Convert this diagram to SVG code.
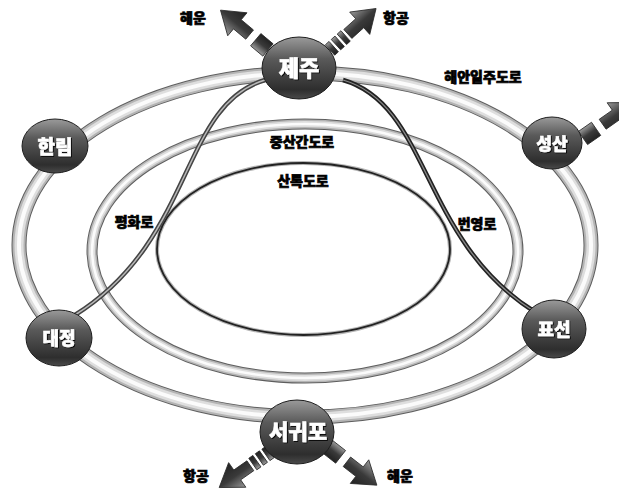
<svg xmlns="http://www.w3.org/2000/svg" width="619" height="490" viewBox="0 0 619 490">
<defs>
<style>
.lbl{font-family:"Noto Sans CJK KR","Noto Sans",sans-serif;font-weight:900;font-size:14px;fill:#000;stroke:#000;stroke-width:0.7;text-anchor:middle;dominant-baseline:central}
.nt{font-family:"Noto Sans CJK KR","Noto Sans",sans-serif;font-weight:900;fill:#fff;stroke:#fff;stroke-width:0.5;text-anchor:middle;dominant-baseline:central;filter:url(#ts)}
.ball{fill:url(#ballg);stroke:#1e1e1e;stroke-width:1}
.r1{fill:none;stroke:#5e5e5e}
.r2{fill:none;stroke:#b4b4b4}
.r3{fill:none;stroke:#dedede}
.r4{fill:none;stroke:#fbfbfb}
.arw{fill:url(#arg);stroke:#2a2a2a;stroke-width:0.8}
</style>
<linearGradient id="ballg" x1="0" y1="0" x2="0" y2="1">
<stop offset="0" stop-color="#9a9a9a"/>
<stop offset="0.35" stop-color="#5a5a5a"/>
<stop offset="0.85" stop-color="#2e2e2e"/>
<stop offset="1" stop-color="#4a4a4a"/>
</linearGradient>
<linearGradient id="arg" x1="0" y1="0" x2="0" y2="1">
<stop offset="0" stop-color="#9a9a9a"/>
<stop offset="0.5" stop-color="#3a3a3a"/>
<stop offset="1" stop-color="#222"/>
</linearGradient>
<filter id="ts" x="-20%" y="-20%" width="140%" height="140%">
<feDropShadow dx="1" dy="1" stdDeviation="0.6" flood-color="#000" flood-opacity="0.9"/>
</filter>
<g id="aBlock">
<rect x="0" y="-8" width="16" height="16" class="arw"/>
<path d="M24,-6 L40,-6 L40,-15 L62,0 L40,15 L40,6 L24,6 Z" class="arw"/>
</g>
<g id="aStripe">
<rect x="0" y="-7" width="5" height="14" class="arw"/>
<rect x="8" y="-7" width="5" height="14" class="arw"/>
<rect x="16" y="-7" width="5" height="14" class="arw"/>
<path d="M24,-6 L40,-6 L40,-15 L62,0 L40,15 L40,6 L24,6 Z" class="arw"/>
</g>
</defs>
<rect width="619" height="490" fill="#fff"/>

<g id="connectors">
<g id="ring-outer">
<ellipse cx="305" cy="245" rx="286" ry="172" class="r1" stroke-width="15"/>
<ellipse cx="305" cy="245" rx="286" ry="172" class="r2" stroke-width="13"/>
<ellipse cx="305" cy="245" rx="286" ry="172" class="r3" stroke-width="9"/>
<ellipse cx="305" cy="245" rx="286" ry="172" class="r4" stroke-width="4"/>
</g>
<g id="ring-middle">
<ellipse cx="305" cy="251" rx="213" ry="127" class="r1" stroke-width="11"/>
<ellipse cx="305" cy="251" rx="213" ry="127" class="r2" stroke-width="9"/>
<ellipse cx="305" cy="251" rx="213" ry="127" class="r3" stroke-width="6"/>
<ellipse cx="305" cy="251" rx="213" ry="127" class="r4" stroke-width="2.5"/>
</g>
<g id="ring-inner">
<ellipse cx="303.5" cy="249" rx="146.5" ry="86" fill="none" stroke="#b5b5b5" stroke-width="4"/>
<ellipse cx="303.5" cy="249" rx="146.5" ry="86" fill="none" stroke="#222" stroke-width="1.8"/>
</g>
<g id="road-pyeonghwa">
<path d="M265,80 C180,105 195,240 75,315" fill="none" stroke="#444" stroke-width="4.5"/>
<path d="M265,80 C180,105 195,240 75,315" fill="none" stroke="#b8b8b8" stroke-width="1.5"/>
</g>
<g id="road-beonyeong">
<path d="M343,80 C430,105 420,240 535,312" fill="none" stroke="#222" stroke-width="4.5"/>
<path d="M343,80 C430,105 420,240 535,312" fill="none" stroke="#8a8a8a" stroke-width="1.3"/>
</g>
<g id="arrows">
<use href="#aBlock" transform="translate(268,50) rotate(-140)"/>
<use href="#aStripe" transform="translate(330,50) rotate(-42)"/>
<use href="#aBlock" transform="translate(583,138) rotate(-35)"/>
<use href="#aStripe" transform="translate(270,452) rotate(145)"/>
<use href="#aBlock" transform="translate(328,447) rotate(38)"/>
</g>
</g>

<g id="node-jeju">
<ellipse cx="299" cy="68" rx="37" ry="31" class="ball"/>
<text x="299" y="66" class="nt" font-size="22">제주</text>
</g>
<g id="node-hallim">
<ellipse cx="55" cy="146" rx="33" ry="27" class="ball"/>
<text x="55" y="145" class="nt" font-size="19">한림</text>
</g>
<g id="node-seongsan">
<ellipse cx="552" cy="143" rx="30" ry="26" class="ball"/>
<text x="552" y="142" class="nt" font-size="17">성산</text>
</g>
<g id="node-daejeong">
<ellipse cx="59" cy="338" rx="33" ry="28" class="ball"/>
<text x="59" y="337" class="nt" font-size="18">대정</text>
</g>
<g id="node-pyoseon">
<ellipse cx="554" cy="329" rx="32" ry="29" class="ball"/>
<text x="554" y="328" class="nt" font-size="18">표선</text>
</g>
<g id="node-seogwipo">
<ellipse cx="297" cy="432" rx="37" ry="32" class="ball"/>
<text x="298" y="430" class="nt" font-size="21">서귀포</text>
</g>

<g id="labels">
<text x="193" y="17" class="lbl">해운</text>
<text x="396" y="17" class="lbl">항공</text>
<text x="483" y="76" class="lbl">해안일주도로</text>
<text x="302" y="141" class="lbl">중산간도로</text>
<text x="303" y="180" class="lbl">산록도로</text>
<text x="134" y="221" class="lbl">평화로</text>
<text x="477" y="223" class="lbl">번영로</text>
<text x="196" y="475" class="lbl">항공</text>
<text x="400" y="475" class="lbl">해운</text>
</g>
</svg>
